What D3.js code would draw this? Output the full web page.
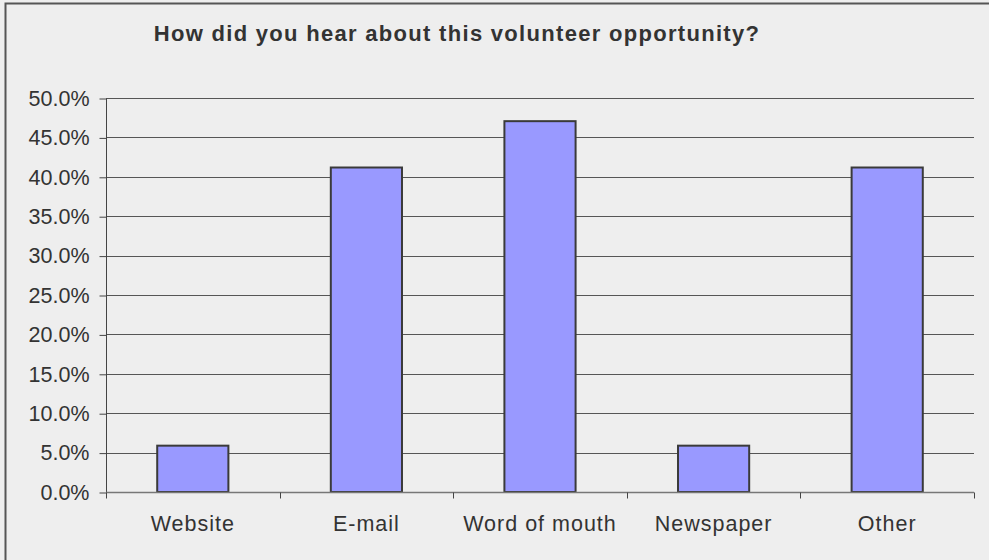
<!DOCTYPE html>
<html>
<head>
<meta charset="utf-8">
<script src="https://cdn.jsdelivr.net/npm/d3@7"></script>
<style>
  body { margin: 0; background: #eeeeee; }
  svg { display: block; font-family: "Liberation Sans", Arial, sans-serif; }
</style>
</head>
<body>
<svg id="chart" width="989" height="560"></svg>
<script>
const chartTitle = "How did you hear about this volunteer opportunity?";
const categories = ["Website", "E-mail", "Word of mouth", "Newspaper", "Other"];
const shares = [0.0588, 0.4118, 0.4706, 0.0588, 0.4118];
const yTicks = [0, 0.05, 0.10, 0.15, 0.20, 0.25, 0.30, 0.35, 0.40, 0.45, 0.50];

const svg = d3.select("#chart");
const plot = { left: 106, right: 974, top: 98, bottom: 492 };

// outer frame, cut off at right/bottom like the source
svg.append("rect")
    .attr("x", 5.5).attr("y", 3.5)
    .attr("width", 1000).attr("height", 600)
    .attr("fill", "#eeeeee")
    .attr("stroke", "#555").attr("stroke-width", 2);

svg.append("text")
    .attr("x", 457).attr("y", 41)
    .attr("text-anchor", "middle")
    .attr("font-size", 22).attr("font-weight", "bold")
    .attr("letter-spacing", 1.3)
    .attr("fill", "#333")
    .text(chartTitle);

const x = d3.scaleBand()
    .domain(categories)
    .range([plot.left, plot.right])
    .paddingInner(0.59).paddingOuter(0.295);

const band = d3.scalePoint().domain(categories).range([plot.left, plot.right]).padding(0.5);

const y = d3.scaleLinear().domain([0, 0.5]).range([plot.bottom, plot.top]);

// gridlines
svg.append("g")
    .selectAll("line")
    .data(yTicks.slice(1))
    .enter().append("line")
    .attr("x1", plot.left).attr("x2", plot.right)
    .attr("y1", d => Math.round(y(d)) + 0.5).attr("y2", d => Math.round(y(d)) + 0.5)
    .attr("stroke", "#555").attr("stroke-width", 1);

// y axis
const yAxis = svg.append("g")
    .attr("transform", `translate(${plot.left + 0.5},0.5)`)
    .call(d3.axisLeft(y).tickValues(yTicks).tickSize(7).tickPadding(10)
        .tickFormat(d3.format(".1%")));
yAxis.select(".domain").attr("stroke", "#444").attr("d", `M0,${plot.top}V${plot.bottom}`);
yAxis.selectAll(".tick line").attr("stroke", "#444");
yAxis.selectAll(".tick text")
    .attr("font-size", 21.5).attr("fill", "#333")
    .attr("font-family", "Liberation Sans, Arial, sans-serif");

// bars
svg.append("g")
    .selectAll("rect")
    .data(shares)
    .enter().append("rect")
    .attr("x", (d, i) => x(categories[i]))
    .attr("y", d => y(d))
    .attr("width", x.bandwidth())
    .attr("height", d => y(0) - y(d))
    .attr("fill", "#9999ff")
    .attr("stroke", "#3a3a3a")
    .attr("stroke-width", 2);

// x axis with ticks between categories
const step = (plot.right - plot.left) / categories.length;
const xAxisG = svg.append("g").attr("transform", `translate(0,${plot.bottom + 0.5})`);
xAxisG.append("line")
    .attr("x1", plot.left).attr("x2", plot.right)
    .attr("stroke", "#777").attr("stroke-width", 1.5);
xAxisG.selectAll(".sep")
    .data(d3.range(categories.length + 1))
    .enter().append("line")
    .attr("class", "sep")
    .attr("x1", i => Math.round(plot.left + i * step) + 0.5)
    .attr("x2", i => Math.round(plot.left + i * step) + 0.5)
    .attr("y1", 0).attr("y2", 6)
    .attr("stroke", "#444");
xAxisG.selectAll(".lbl")
    .data(categories)
    .enter().append("text")
    .attr("class", "lbl")
    .attr("x", d => band(d))
    .attr("y", 38.5)
    .attr("text-anchor", "middle")
    .attr("font-size", 21.5).attr("letter-spacing", 1)
    .attr("fill", "#333")
    .text(d => d);
</script>
</body>
</html>
